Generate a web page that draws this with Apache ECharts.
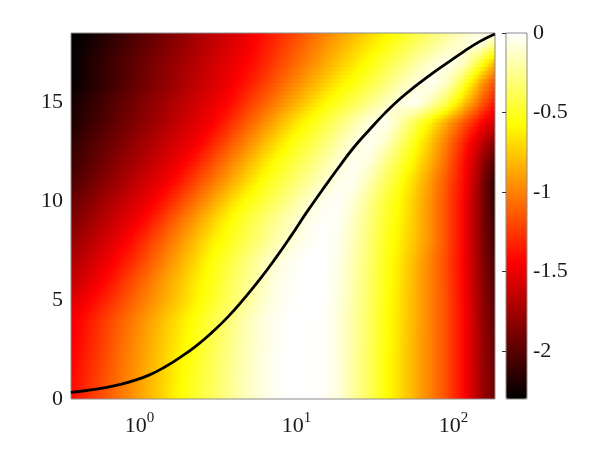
<!DOCTYPE html>
<html>
<head>
<meta charset="utf-8">
<script src="https://cdn.jsdelivr.net/npm/echarts@6/dist/echarts.min.js"></script>
<style>
  html, body { margin: 0; background: #fff; }
  #chart { width: 600px; height: 450px; }
</style>
</head>
<body>
<div id="chart"></div>
<script>
// column centres (log spaced) and row centres of the colour field
const xVals = [0.366, 0.4608, 0.5801, 0.7303, 0.9194, 1.1575, 1.4572, 1.8345, 2.3095, 2.9075,
  3.660, 4.608, 5.801, 7.303, 9.194, 11.575, 14.572, 18.345, 23.095, 29.075,
  36.60, 46.08, 58.01, 73.03, 91.94, 115.7, 145.7, 183.5]
const yRows = [0, 1, 2, 3, 4, 5, 6, 7, 8, 9, 10, 11, 12, 13, 14, 15, 16, 17, 18, 18.5]

// field values, one row per entry of yRows (bottom to top)
const row0 = [-1.4, -1.29, -1.17, -1.05, -0.93, -0.81, -0.69, -0.57, -0.46, -0.36, -0.26, -0.16, -0.08, -0.02, 0, 0, -0.01, -0.08, -0.22, -0.38, -0.55, -0.7, -0.86, -1.02, -1.2, -1.43, -1.72, -1.95]
const row1 = [-1.42, -1.3, -1.18, -1.06, -0.94, -0.82, -0.7, -0.58, -0.47, -0.37, -0.26, -0.16, -0.08, -0.02, 0, 0, -0.01, -0.08, -0.22, -0.38, -0.55, -0.7, -0.86, -1.02, -1.2, -1.43, -1.72, -1.95]
const row2 = [-1.44, -1.32, -1.2, -1.08, -0.96, -0.84, -0.72, -0.6, -0.49, -0.38, -0.27, -0.17, -0.08, -0.02, 0, 0, -0.01, -0.08, -0.22, -0.38, -0.55, -0.7, -0.86, -1.02, -1.2, -1.43, -1.73, -1.96]
const row3 = [-1.47, -1.35, -1.23, -1.1, -0.98, -0.86, -0.74, -0.62, -0.51, -0.4, -0.29, -0.18, -0.09, -0.03, 0, 0, -0.01, -0.08, -0.21, -0.37, -0.54, -0.7, -0.86, -1.02, -1.2, -1.43, -1.73, -1.97]
const row4 = [-1.49, -1.37, -1.25, -1.13, -1.01, -0.89, -0.77, -0.65, -0.53, -0.42, -0.3, -0.19, -0.09, -0.03, 0, 0, -0.01, -0.08, -0.21, -0.37, -0.54, -0.69, -0.85, -1.02, -1.2, -1.43, -1.74, -2.0]
const row5 = [-1.55, -1.46, -1.34, -1.22, -1.09, -0.97, -0.85, -0.73, -0.6, -0.48, -0.37, -0.25, -0.14, -0.05, -0.01, 0, 0, -0.07, -0.2, -0.36, -0.53, -0.69, -0.85, -1.02, -1.2, -1.44, -1.75, -2.02]
const row6 = [-1.65, -1.55, -1.44, -1.31, -1.17, -1.04, -0.9, -0.77, -0.63, -0.52, -0.4, -0.28, -0.16, -0.07, -0.02, 0, 0, -0.06, -0.19, -0.35, -0.52, -0.68, -0.85, -1.02, -1.21, -1.45, -1.77, -2.04]
const row7 = [-1.72, -1.62, -1.52, -1.41, -1.28, -1.13, -0.99, -0.84, -0.7, -0.55, -0.44, -0.32, -0.2, -0.1, -0.03, 0, 0, -0.05, -0.18, -0.34, -0.51, -0.67, -0.84, -1.02, -1.22, -1.45, -1.78, -2.06]
const row8 = [-1.8, -1.7, -1.6, -1.5, -1.38, -1.23, -1.08, -0.93, -0.78, -0.63, -0.52, -0.41, -0.3, -0.19, -0.1, -0.03, 0, -0.04, -0.16, -0.32, -0.5, -0.64, -0.8, -0.98, -1.2, -1.45, -1.8, -2.1]
const row9 = [-1.88, -1.78, -1.68, -1.58, -1.49, -1.36, -1.2, -1.04, -0.89, -0.73, -0.58, -0.46, -0.35, -0.24, -0.14, -0.05, -0.01, -0.03, -0.14, -0.3, -0.47, -0.62, -0.79, -0.98, -1.2, -1.45, -1.8, -2.12]
const row10 = [-1.95, -1.86, -1.76, -1.67, -1.57, -1.48, -1.35, -1.19, -1.04, -0.88, -0.72, -0.57, -0.46, -0.35, -0.24, -0.13, -0.04, -0.01, -0.1, -0.27, -0.44, -0.6, -0.78, -0.98, -1.2, -1.45, -1.8, -2.15]
const row11 = [-2.04, -1.95, -1.85, -1.76, -1.66, -1.57, -1.48, -1.35, -1.19, -1.04, -0.89, -0.73, -0.58, -0.46, -0.35, -0.24, -0.13, -0.04, -0.03, -0.18, -0.36, -0.54, -0.74, -0.95, -1.18, -1.42, -1.78, -2.18]
const row12 = [-2.1, -2.01, -1.92, -1.83, -1.74, -1.65, -1.56, -1.47, -1.34, -1.18, -1.02, -0.87, -0.71, -0.56, -0.45, -0.34, -0.22, -0.1, -0.03, -0.08, -0.26, -0.45, -0.65, -0.87, -1.12, -1.4, -1.72, -2.05]
const row13 = [-2.14, -2.06, -1.97, -1.89, -1.8, -1.72, -1.63, -1.55, -1.47, -1.33, -1.17, -1.02, -0.86, -0.7, -0.56, -0.45, -0.33, -0.2, -0.08, -0.02, -0.12, -0.33, -0.56, -0.8, -1.05, -1.32, -1.6, -1.85]
const row14 = [-2.21, -2.12, -2.04, -1.95, -1.87, -1.79, -1.71, -1.62, -1.54, -1.45, -1.31, -1.16, -1.01, -0.86, -0.71, -0.57, -0.45, -0.32, -0.19, -0.07, -0.02, -0.2, -0.42, -0.65, -0.9, -1.15, -1.4, -1.62]
const row15 = [-2.23, -2.15, -2.07, -1.99, -1.91, -1.83, -1.75, -1.67, -1.59, -1.51, -1.43, -1.29, -1.15, -1.02, -0.88, -0.75, -0.61, -0.5, -0.39, -0.27, -0.15, -0.05, -0.02, -0.18, -0.42, -0.75, -1.08, -1.38]
const row16 = [-2.29, -2.21, -2.13, -2.05, -1.97, -1.89, -1.81, -1.73, -1.65, -1.57, -1.49, -1.39, -1.27, -1.14, -1.02, -0.89, -0.77, -0.64, -0.54, -0.43, -0.31, -0.19, -0.08, -0.02, -0.15, -0.45, -0.85, -1.2]
const row17 = [-2.3, -2.2, -2.13, -2.05, -1.98, -1.9, -1.83, -1.75, -1.68, -1.6, -1.53, -1.45, -1.35, -1.23, -1.12, -1.0, -0.89, -0.77, -0.66, -0.55, -0.43, -0.32, -0.2, -0.1, -0.03, -0.12, -0.45, -0.85]
const row18 = [-2.3, -2.24, -2.17, -2.1, -2.02, -1.95, -1.87, -1.8, -1.72, -1.65, -1.57, -1.5, -1.4, -1.29, -1.19, -1.08, -0.97, -0.87, -0.76, -0.66, -0.56, -0.46, -0.36, -0.26, -0.17, -0.09, -0.03, -0.25]
const row18h = [-2.3, -2.26, -2.19, -2.12, -2.04, -1.97, -1.89, -1.82, -1.74, -1.67, -1.59, -1.52, -1.42, -1.32, -1.22, -1.12, -1.01, -0.91, -0.81, -0.71, -0.61, -0.51, -0.41, -0.31, -0.22, -0.13, -0.06, -0.02]
const values = [row0, row1, row2, row3, row4, row5, row6, row7, row8, row9, row10,
  row11, row12, row13, row14, row15, row16, row17, row18, row18h]

// black curve, sampled at the column centres
const curveX = xVals
const curveY = [0.33, 0.43, 0.55, 0.71, 0.93, 1.22, 1.63, 2.13, 2.7, 3.38, 4.15, 5.05, 6.02, 7.08,
  8.22, 9.42, 10.55, 11.65, 12.7, 13.6, 14.45, 15.2, 15.85, 16.45, 17.0, 17.55, 18.05, 18.45]

const cMin = -2.3
const cMax = 0
const cbTicks = [0, -0.5, -1, -1.5, -2]
const yTicks = [0, 5, 10, 15]
const xTicks = [1, 10, 100]

const FONT = 'Liberation Serif'
const TXT = '#1a1a1a'
const hotStops = ['#000000', '#550000', '#aa0000', '#ff0000', '#ff5500', '#ffaa00', '#ffff00', '#ffff80', '#ffffff']

function hot(v) {
  let t = (v - cMin) / (cMax - cMin)
  t = Math.max(0, Math.min(1, t))
  const r = Math.min(1, t / 0.375)
  const g = Math.max(0, Math.min(1, (t - 0.375) / 0.375))
  const b = Math.max(0, Math.min(1, (t - 0.75) / 0.25))
  return 'rgb(' + Math.round(r * 255) + ',' + Math.round(g * 255) + ',' + Math.round(b * 255) + ')'
}

const cells = []
for (let r = 0; r < yRows.length - 1; r++) {
  for (let i = 0; i < xVals.length - 1; i++) {
    cells.push([xVals[i], yRows[r], values[r][i], i, r])
  }
}

// shaded cell between neighbouring centres
function renderCell(params, api) {
  const i = api.value(3)
  const r = api.value(4)
  const a = api.coord([xVals[i], yRows[r]])
  const b = api.coord([xVals[i + 1], yRows[r + 1]])
  const strips = 5
  const h = (a[1] - b[1]) / strips
  const children = []
  for (let k = 0; k < strips; k++) {
    const f = (k + 0.5) / strips
    const vl = values[r][i] + (values[r + 1][i] - values[r][i]) * f
    const vr = values[r][i + 1] + (values[r + 1][i + 1] - values[r][i + 1]) * f
    const stops = [0, 0.25, 0.5, 0.75, 1].map(function (o) {
      return { offset: o, color: hot(vl + (vr - vl) * o) }
    })
    children.push({
      type: 'rect',
      shape: { x: a[0], y: a[1] - (k + 1) * h - 0.5, width: b[0] - a[0] + 1, height: h + 1 },
      style: { fill: new echarts.graphic.LinearGradient(0, 0, 1, 0, stops) },
    })
  }
  return { type: 'group', children: children }
}

const chart = echarts.init(document.getElementById('chart'))

chart.setOption({
  animation: false,
  grid: [
    { left: 71, top: 33, width: 424, height: 366, show: true, borderColor: '#8c8c8c', borderWidth: 1, backgroundColor: 'transparent', z: 3 },
    { left: 506, top: 33, width: 21, height: 366, show: true, borderColor: '#8c8c8c', borderWidth: 1, backgroundColor: 'transparent', z: 10 },
  ],
  xAxis: [
    {
      gridIndex: 0,
      type: 'log',
      logBase: 10,
      min: 0.366,
      max: 184,
      axisLine: { show: false },
      axisTick: { show: false },
      splitLine: { show: false },
      axisLabel: {
        customValues: xTicks,
        margin: 12,
        formatter: function (v) {
          const lg = Math.log10(v)
          const e = Math.round(lg)
          if (Math.abs(lg - e) > 1e-6) return ''
          return '{b|10}{e|' + e + '}'
        },
        rich: {
          b: { fontFamily: FONT, fontSize: 22, color: TXT, lineHeight: 26, verticalAlign: 'bottom' },
          e: { fontFamily: FONT, fontSize: 15, color: TXT, lineHeight: 15, verticalAlign: 'top' },
        },
      },
    },
    { gridIndex: 1, type: 'value', min: 0, max: 1, show: false },
  ],
  yAxis: [
    {
      gridIndex: 0,
      type: 'value',
      min: 0,
      max: 18.5,
      axisLine: { show: false },
      axisTick: { show: false },
      splitLine: { show: false },
      axisLabel: { customValues: yTicks, margin: 8, fontFamily: FONT, fontSize: 22, color: TXT },
    },
    {
      gridIndex: 1,
      type: 'value',
      position: 'right',
      min: cMin,
      max: cMax,
      z: 12,
      axisLine: { show: false },
      axisTick: { show: true, inside: true, length: 4, customValues: cbTicks, lineStyle: { color: '#333', width: 1 } },
      splitLine: { show: false },
      axisLabel: {
        customValues: cbTicks,
        margin: 6,
        fontFamily: FONT,
        fontSize: 22,
        color: TXT,
        formatter: function (v) { return String(v) },
      },
    },
  ],
  visualMap: {
    type: 'continuous',
    seriesIndex: 0,
    dimension: 2,
    min: cMin,
    max: cMax,
    left: 506,
    top: 33,
    padding: 0,
    itemWidth: 21,
    itemHeight: 366,
    calculable: false,
    hoverLink: false,
    text: null,
    inRange: { color: hotStops },
  },
  series: [
    {
      type: 'custom',
      xAxisIndex: 0,
      yAxisIndex: 0,
      clip: true,
      renderItem: renderCell,
      encode: { x: 0, y: 1 },
      data: cells,
      z: 2,
      silent: true,
    },
    {
      type: 'line',
      xAxisIndex: 0,
      yAxisIndex: 0,
      data: curveX.map(function (x, k) { return [x, curveY[k]] }),
      smooth: true,
      symbol: 'none',
      lineStyle: { color: '#000', width: 2.8 },
      z: 5,
      silent: true,
    },
  ],
})
</script>
</body>
</html>
